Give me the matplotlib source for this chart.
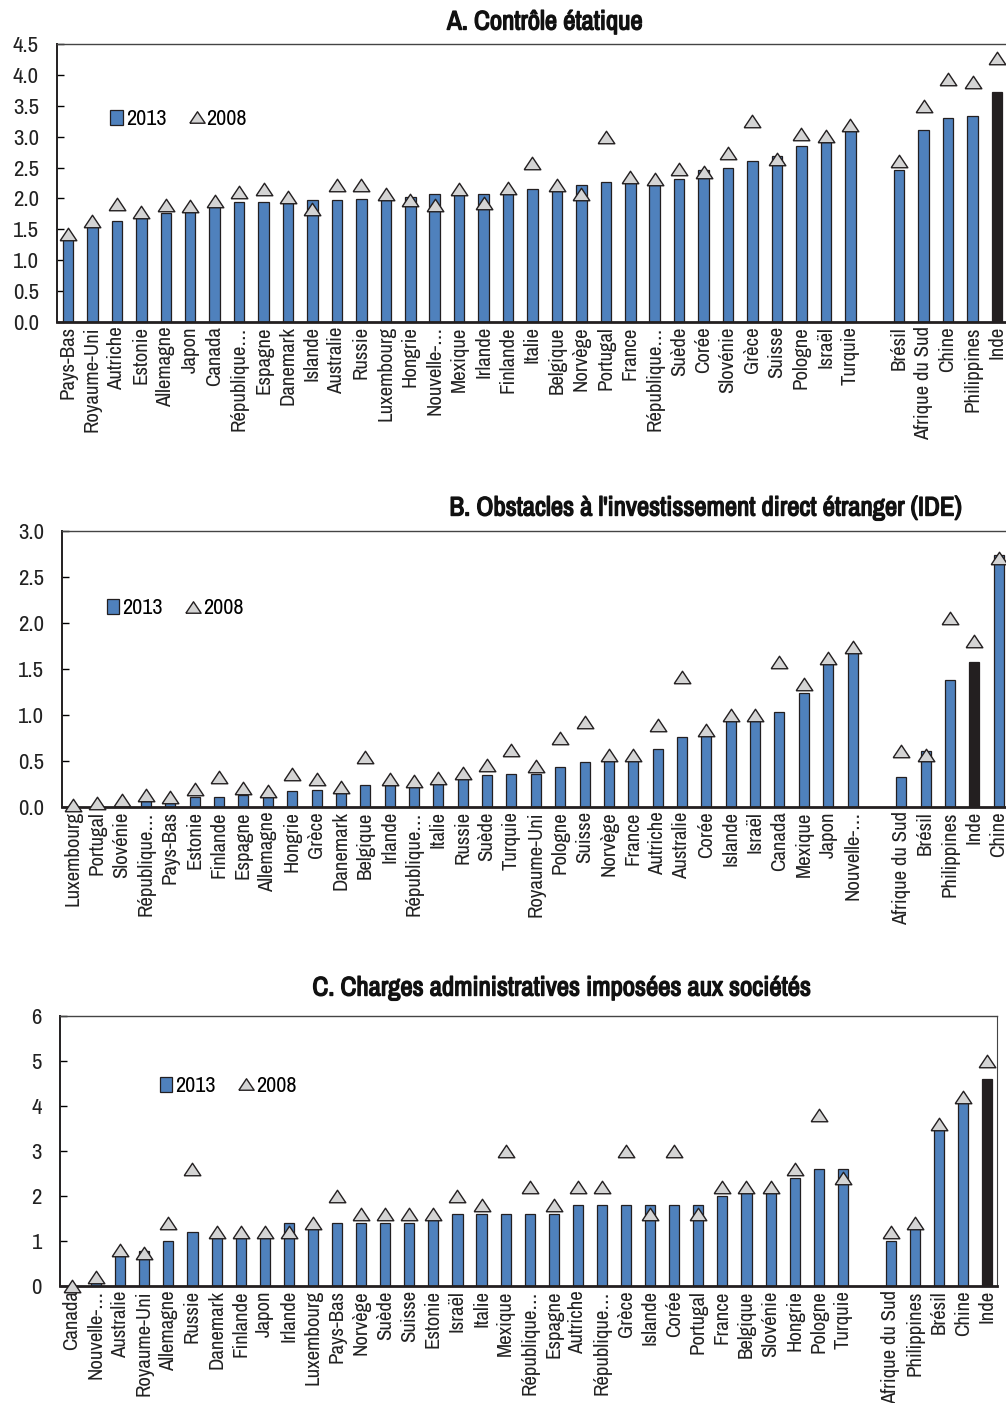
import numpy as np
import matplotlib.pyplot as plt
import matplotlib.patheffects as pe
from matplotlib.patches import Patch
from matplotlib.lines import Line2D

plt.rcParams["font.family"] = ["Archivo Narrow", "DejaVu Sans"]

# A. Contrôle étatique
a_labels = ["Pays-Bas", "Royaume-Uni", "Autriche", "Estonie", "Allemagne", "Japon",
            "Canada", "République…", "Espagne", "Danemark", "Islande", "Australie",
            "Russie", "Luxembourg", "Hongrie", "Nouvelle-…", "Mexique", "Irlande",
            "Finlande", "Italie", "Belgique", "Norvège", "Portugal", "France",
            "République…", "Suède", "Corée", "Slovénie", "Grèce", "Suisse",
            "Pologne", "Israël", "Turquie",
            "Brésil", "Afrique du Sud", "Chine", "Philippines", "Inde"]
a_2013 = [1.37, 1.57, 1.63, 1.71, 1.76, 1.82, 1.89, 1.95, 1.95, 1.95, 1.97, 1.98,
          1.99, 2.00, 2.03, 2.07, 2.08, 2.08, 2.10, 2.15, 2.13, 2.21, 2.27, 2.27,
          2.24, 2.31, 2.46, 2.50, 2.61, 2.68, 2.85, 2.92, 3.11,
          2.46, 3.11, 3.31, 3.33, 3.73]
a_2008 = [1.42, 1.64, 1.91, 1.78, 1.89, 1.88, 1.96, 2.10, 2.15, 2.02, 1.83, 2.21,
          2.22, 2.07, 1.97, 1.89, 2.15, 1.93, 2.17, 2.57, 2.22, 2.08, 3.00, 2.35,
          2.31, 2.48, 2.43, 2.74, 3.26, 2.64, 3.04, 3.01, 3.19,
          2.61, 3.50, 3.93, 3.88, 4.27]

# B. Obstacles à l'IDE
b_labels = ["Luxembourg", "Portugal", "Slovénie", "République…", "Pays-Bas", "Estonie",
            "Finlande", "Espagne", "Allemagne", "Hongrie", "Grèce", "Danemark",
            "Belgique", "Irlande", "République…", "Italie", "Russie", "Suède",
            "Turquie", "Royaume-Uni", "Pologne", "Suisse", "Norvège", "France",
            "Autriche", "Australie", "Corée", "Islande", "Israël", "Canada",
            "Mexique", "Japon", "Nouvelle-…",
            "Afrique du Sud", "Brésil", "Philippines", "Inde", "Chine"]
b_2013 = [0.00, 0.02, 0.02, 0.06, 0.06, 0.11, 0.11, 0.13, 0.12, 0.17, 0.19, 0.17,
          0.24, 0.24, 0.24, 0.26, 0.31, 0.35, 0.36, 0.36, 0.43, 0.49, 0.51, 0.51,
          0.63, 0.76, 0.80, 0.95, 0.95, 1.03, 1.24, 1.57, 1.69,
          0.33, 0.61, 1.38, 1.58, 2.74]
b_2008 = [0.02, 0.04, 0.08, 0.13, 0.11, 0.20, 0.33, 0.21, 0.17, 0.36, 0.30, 0.22,
          0.54, 0.30, 0.28, 0.31, 0.37, 0.46, 0.62, 0.45, 0.75, 0.92, 0.56, 0.56,
          0.89, 1.41, 0.84, 1.00, 1.00, 1.58, 1.34, 1.62, 1.74,
          0.61, 0.57, 2.05, 1.80, 2.71]

# C. Charges administratives imposées aux sociétés
c_labels = ["Canada", "Nouvelle-…", "Australie", "Royaume-Uni", "Allemagne", "Russie",
            "Danemark", "Finlande", "Japon", "Irlande", "Luxembourg", "Pays-Bas",
            "Norvège", "Suède", "Suisse", "Estonie", "Israël", "Italie", "Mexique",
            "République…", "Espagne", "Autriche", "République…", "Grèce", "Islande",
            "Corée", "Portugal", "France", "Belgique", "Slovénie", "Hongrie",
            "Pologne", "Turquie",
            "Afrique du Sud", "Philippines", "Brésil", "Chine", "Inde"]
c_2013 = [0.0, 0.1, 0.7, 0.78, 1.0, 1.2, 1.1, 1.1, 1.1, 1.4, 1.3, 1.4, 1.4, 1.4,
          1.4, 1.5, 1.6, 1.6, 1.6, 1.6, 1.6, 1.8, 1.8, 1.8, 1.8, 1.8, 1.8, 2.0,
          2.1, 2.1, 2.4, 2.6, 2.6,
          1.0, 1.3, 3.5, 4.1, 4.6]
c_2008 = [0.0, 0.2, 0.8, 0.73, 1.4, 2.6, 1.2, 1.2, 1.2, 1.2, 1.4, 2.0, 1.6, 1.6,
          1.6, 1.6, 2.0, 1.8, 3.0, 2.2, 1.8, 2.2, 2.2, 3.0, 1.6, 3.0, 1.6, 2.2,
          2.2, 2.2, 2.6, 3.8, 2.4,
          1.2, 1.4, 3.6, 4.2, 5.0]

n_oecd = 33
blue = "#4f81bd"
dark = "#231f20"
tri_face = "#d4d4d4"
# flat triangle, a bit wider than tall
tri = [(-1, -0.75), (1, -0.75), (0, 0.75), (-1, -0.75)]
tri_ms = 12

fig = plt.figure(figsize=(10.06, 14.03), dpi=100)


def panel(rect, labels, v13, v08, yticks, fmt, xlim, title, title_xy, leg_xy,
          width=0.42, right_spine=False):
    ax = fig.add_axes(rect)
    # OECD countries, one empty slot, then the partner economies
    x = np.r_[np.arange(n_oecd), np.arange(n_oecd + 1, n_oecd + 6)]
    colors = [dark if l == "Inde" else blue for l in labels]
    ax.bar(x, v13, width=width, color=colors, edgecolor=dark, linewidth=0.9, zorder=2)
    ax.plot(x, v08, linestyle="none", marker=tri, ms=tri_ms, mfc=tri_face, mec=dark,
            mew=1.0, zorder=3, clip_on=False)
    ax.set_xlim(*xlim)
    ax.set_ylim(yticks[0], yticks[-1])
    ax.set_yticks(yticks)
    ax.set_yticklabels([fmt.format(t) for t in yticks], fontsize=16.5, color="#222222")
    ax.set_xticks(x)
    ax.set_xticklabels(labels, rotation=90, fontsize=15, color="#222222")
    ax.tick_params(axis="x", length=0, pad=3)
    ax.tick_params(axis="y", direction="in", length=5, width=1, pad=13)
    for s in ["left", "bottom"]:
        ax.spines[s].set_color(dark)
    ax.spines["left"].set_linewidth(1.4)
    ax.spines["bottom"].set_linewidth(2.0)
    ax.spines["top"].set_color("#444444")
    ax.spines["top"].set_linewidth(1.0)
    ax.spines["right"].set_visible(right_spine)
    ax.spines["right"].set_color("#444444")
    handles = [Patch(facecolor=blue, edgecolor=dark, linewidth=0.9),
               Line2D([], [], linestyle="none", marker=tri, ms=tri_ms - 1, mfc=tri_face,
                      mec=dark, mew=1.0)]
    ax.legend(handles, ["2013", "2008"], loc="center left", bbox_to_anchor=leg_xy,
              frameon=False, fontsize=16, handlelength=0.55, handleheight=0.7,
              handletextpad=0.15, columnspacing=1.1, ncol=2, borderaxespad=0)
    fig.text(title_xy[0] / 1006, 1 - title_xy[1] / 1403, title, ha="center",
             va="center", fontsize=19.3, color="#111111",
             path_effects=[pe.withStroke(linewidth=1.0, foreground="#111111")])
    return ax


panel([57 / 1006, 1 - 322 / 1403, 949 / 1006, 278 / 1403],
      a_labels, a_2013, a_2008, np.arange(0, 4.51, 0.5), "{:.1f}",
      (-0.45, 38.37), "A. Contrôle étatique", (545, 22), (0.047, 0.73), width=0.43)

panel([62 / 1006, 1 - 807 / 1403, 944 / 1006, 276 / 1403],
      b_labels, b_2013, b_2008, np.arange(0, 3.01, 0.5), "{:.1f}",
      (-0.45, 38.3), "B. Obstacles à l'investissement direct étranger (IDE)",
      (706, 508), (0.038, 0.72), width=0.41)

panel([60 / 1006, 1 - 1286 / 1403, 937 / 1006, 270 / 1403],
      c_labels, c_2013, c_2008, np.arange(0, 7, 1), "{:.0f}",
      (-0.5, 38.4), "C. Charges administratives imposées aux sociétés",
      (562, 988), (0.097, 0.74), width=0.42, right_spine=True)

fig.savefig("out.png", dpi=100)
